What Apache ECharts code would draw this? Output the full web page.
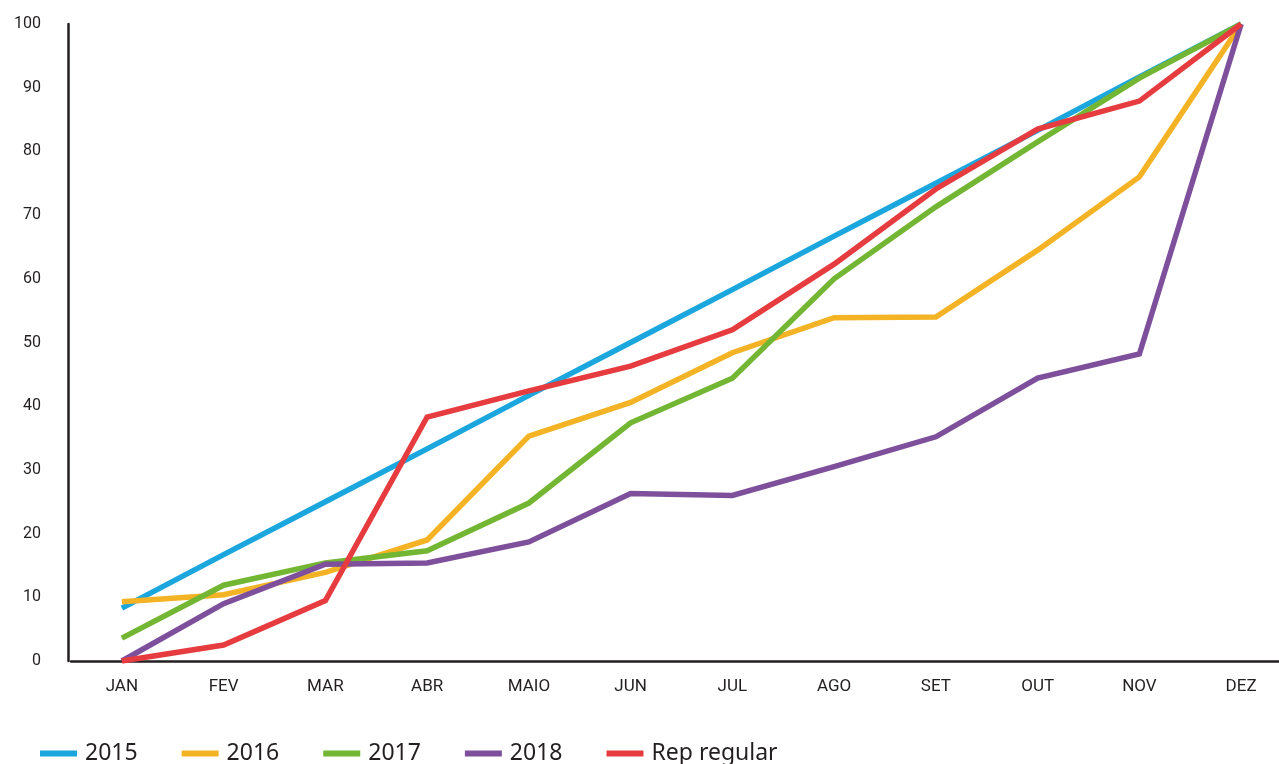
<!DOCTYPE html>
<html>
<head>
<meta charset="utf-8">
<script src="https://cdn.jsdelivr.net/npm/echarts@6/dist/echarts.min.js"></script>
<style>
  html, body { margin: 0; padding: 0; background: #ffffff; overflow: hidden; width: 1279px; height: 764px; }
  /* canvas is a little wider than the window so the last month sits near the right border */
  #chart { width: 1292px; height: 764px; }
</style>
</head>
<body>
<div id="chart"></div>
<script>
// Months of the year (Portuguese abbreviations)
const months = ['JAN', 'FEV', 'MAR', 'ABR', 'MAIO', 'JUN', 'JUL', 'AGO', 'SET', 'OUT', 'NOV', 'DEZ'];

// Cumulative percentage per month
const y2015 = [8.3, 16.7, 25.0, 33.3, 41.7, 50.0, 58.3, 66.7, 75.0, 83.3, 91.7, 100];
const y2016 = [9.3, 10.4, 13.9, 19.0, 35.3, 40.6, 48.4, 53.9, 54.0, 64.5, 76.0, 100];
const y2017 = [3.6, 11.9, 15.4, 17.3, 24.8, 37.4, 44.4, 60.0, 71.3, 81.5, 91.5, 100];
const y2018 = [0, 9.0, 15.2, 15.4, 18.7, 26.3, 26.0, 30.5, 35.2, 44.4, 48.2, 100];
const repRegular = [0, 2.5, 9.5, 38.3, 42.4, 46.3, 52.0, 62.3, 74.1, 83.5, 87.9, 100];

const seriesNames = ['2015', '2016', '2017', '2018', 'Rep regular'];
const seriesData = [y2015, y2016, y2017, y2018, repRegular];
const seriesColors = ['#1ba6de', '#f3b325', '#72b633', '#7e509c', '#e63c3f'];

const chart = echarts.init(document.getElementById('chart'), null, { renderer: 'canvas' });

const axisText = '#231f20';

chart.setOption({
  backgroundColor: '#ffffff',
  animation: false,
  grid: { left: 71, right: 0, top: 24, bottom: 103, containLabel: false },
  legend: {
    left: 35,
    top: 737,
    itemWidth: 37,
    itemHeight: 6,
    itemGap: 44,
    icon: 'rect',
    textStyle: { fontFamily: 'Noto Sans', fontSize: 23, color: axisText, padding: [0, 0, 0, 3] },
    data: seriesNames
  },
  xAxis: {
    type: 'category',
    data: months,
    boundaryGap: true,
    axisLine: { lineStyle: { color: axisText, width: 2.5 } },
    axisTick: { show: false },
    splitLine: { show: false },
    axisLabel: { color: axisText, fontFamily: 'Roboto', fontSize: 17, margin: 17 }
  },
  yAxis: {
    type: 'value',
    min: 0,
    max: 100,
    interval: 10,
    offset: 3,
    axisLine: { show: true, lineStyle: { color: axisText, width: 2.5 } },
    axisTick: { show: false },
    splitLine: { show: false },
    axisLabel: { color: axisText, fontFamily: 'Roboto', fontSize: 16, margin: 27 }
  },
  series: seriesNames.map((name, i) => ({
    name: name,
    type: 'line',
    data: seriesData[i],
    symbol: 'none',
    smooth: false,
    color: seriesColors[i],
    lineStyle: { width: 5.5, color: seriesColors[i], join: 'miter' },
    z: 2 + i
  }))
});
</script>
</body>
</html>
